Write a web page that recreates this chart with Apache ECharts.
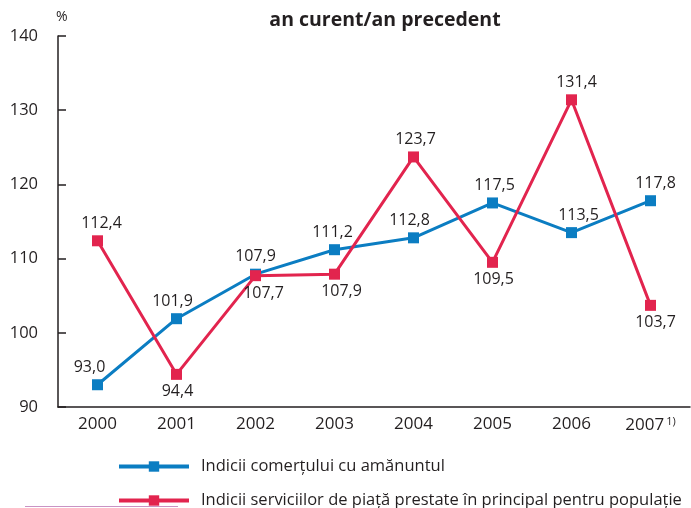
<!DOCTYPE html>
<html>
<head>
<meta charset="utf-8">
<script src="https://cdn.jsdelivr.net/npm/echarts@6/dist/echarts.min.js"></script>
<style>
  html, body { margin: 0; padding: 0; background: #fff; }
  #chart { width: 691px; height: 508px; }
</style>
</head>
<body>
<div id="chart"></div>
<script>
var years = ['2000', '2001', '2002', '2003', '2004', '2005', '2006', '2007'];
var retail = [93.0, 101.9, 107.9, 111.2, 112.8, 117.5, 113.5, 117.8];
var services = [112.4, 94.4, 107.7, 107.9, 123.7, 109.5, 131.4, 103.7];
var seriesNames = [
  'Indicii comerțului cu amănuntul',
  'Indicii serviciilor de piață prestate în principal pentru populație'
];
// where each value label sits relative to its point
var retailLabelPos = ['top', 'top', 'top', 'top', 'top', 'top', 'top', 'top'];
var retailLabelDx = [-8, -4, 0, -2, -4, 2, 7, 5];
var servicesLabelPos = ['top', 'bottom', 'bottom', 'bottom', 'top', 'bottom', 'top', 'bottom'];
var servicesLabelDx = [4, 1, 8, 7, 2, 1, 5, 5];

var blue = '#0b7dc2';
var red = '#e2244e';
var ink = '#231f20';
var font = 'Open Sans';

function fmt(v) {
  return v.toFixed(1).replace('.', ',');
}

function buildData(values, pos, dx) {
  return values.map(function (v, i) {
    return {
      value: v,
      label: { position: pos[i], offset: [dx[i], 0] }
    };
  });
}

function legendFor(name, top) {
  return {
    left: 112,
    top: top,
    itemWidth: 70,
    itemHeight: 13,
    data: [name],
    lineStyle: { width: 4 },
    textStyle: { fontFamily: font, fontSize: 16.5, color: ink, padding: [0, 0, 0, 7] }
  };
}

var chart = echarts.init(document.getElementById('chart'));

var option = {
  animation: false,
  textStyle: { fontFamily: font, color: ink },
  title: {
    text: 'an curent/an precedent',
    left: 380,
    textAlign: 'center',
    top: 5,
    textStyle: { fontFamily: font, fontSize: 19.5, fontWeight: 'bold', color: ink }
  },
  grid: { left: 58, right: 1, top: 36, bottom: 101, containLabel: false },
  legend: [legendFor(seriesNames[0], 453), legendFor(seriesNames[1], 487)],
  xAxis: {
    type: 'category',
    data: years,
    boundaryGap: true,
    axisLine: { lineStyle: { color: ink, width: 1.5 } },
    axisTick: { inside: true, length: 8, lineStyle: { color: ink, width: 1.5 } },
    axisLabel: {
      interval: 0,
      margin: 9,
      fontFamily: font,
      fontSize: 17,
      color: ink,
      formatter: function (v) {
        return v === '2007' ? '{y|' + v + '}{sup|1)}' : v;
      },
      rich: {
        y: { fontFamily: font, fontSize: 17, color: ink },
        sup: { fontFamily: font, fontSize: 11, color: ink, verticalAlign: 'top', padding: [0, 0, 8, 2] }
      }
    }
  },
  yAxis: {
    type: 'value',
    min: 90,
    max: 140,
    interval: 10,
    name: '%',
    nameLocation: 'end',
    nameGap: 12,
    nameTextStyle: { fontFamily: font, fontSize: 14, color: ink, align: 'left', padding: [0, 0, 0, -2] },
    splitLine: { show: false },
    axisLine: { show: true, lineStyle: { color: ink, width: 1.5 } },
    axisTick: { show: true, inside: true, length: 8, lineStyle: { color: ink, width: 1.5 } },
    axisLabel: { margin: 20, fontFamily: font, fontSize: 16.5, color: ink }
  },
  series: [
    {
      name: seriesNames[0],
      type: 'line',
      data: buildData(retail, retailLabelPos, retailLabelDx),
      symbol: 'rect',
      symbolSize: 11,
      lineStyle: { color: blue, width: 3 },
      itemStyle: { color: blue },
      label: {
        show: true,
        distance: 4,
        fontFamily: font,
        fontSize: 16,
        color: ink,
        formatter: function (p) { return fmt(p.value); }
      },
      z: 3
    },
    {
      name: seriesNames[1],
      type: 'line',
      data: buildData(services, servicesLabelPos, servicesLabelDx),
      symbol: 'rect',
      symbolSize: 11,
      lineStyle: { color: red, width: 3 },
      itemStyle: { color: red },
      label: {
        show: true,
        distance: 4,
        fontFamily: font,
        fontSize: 16,
        color: ink,
        formatter: function (p) { return fmt(p.value); }
      },
      z: 4
    }
  ],
  graphic: [
    {
      type: 'line',
      shape: { x1: 25, y1: 506.5, x2: 178, y2: 506.5 },
      style: { stroke: '#c993c4', lineWidth: 1 }
    }
  ]
};

chart.setOption(option);
</script>
</body>
</html>
